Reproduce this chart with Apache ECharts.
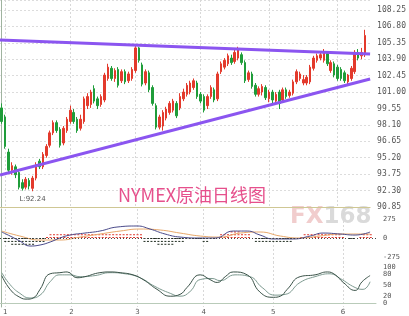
<!DOCTYPE html>
<html><head><meta charset="utf-8">
<script src="https://cdn.jsdelivr.net/npm/echarts@6/dist/echarts.min.js"></script>
<style>html,body{margin:0;padding:0;background:#fff}#c{width:409px;height:316px}</style>
</head><body><div id="c"></div>
<script>
// ---- data ----
const slotCount = 108;
const xTickLabels = {1:'1', 20:'2', 39:'3', 58:'4', 78:'5', 98:'6'};
const priceMin = 90.85, priceStep = 1.45;
const macdTicks = [-275, 0, 275];
const stochTicks = [0, 20, 50, 80, 100];
// [open, close, low, high]
const candles = [
[99.6,98.4,98.2,100.0],[98.8,96.2,96.0,99.0],[95.7,94.1,93.9,96.0],[94.1,94.5,93.7,94.8],[94.4,93.7,93.4,94.6],
[93.9,92.6,92.4,94.2],[93.0,92.5,92.3,93.3],[92.6,93.3,92.4,93.5],[93.2,92.7,92.4,93.4],[92.5,93.4,92.24,93.6],
[93.4,94.6,93.2,94.8],[94.9,94.4,94.2,95.1],[94.4,95.5,94.2,95.7],[95.4,96.2,95.2,96.4],[96.3,97.4,96.1,97.6],
[97.4,98.3,97.2,98.5],[98.3,97.6,97.4,98.5],[97.7,96.3,96.1,97.9],[96.5,97.8,96.3,98.0],[97.6,98.6,97.4,98.8],
[98.4,99.4,98.2,99.8],[99.2,98.4,98.2,99.5],[98.6,97.6,97.4,98.8],[97.8,98.6,97.6,99.0],[98.4,100.4,98.2,100.6],
[99.8,100.6,99.5,100.9],[99.9,101.0,99.6,101.2],[101.3,100.2,100.0,101.6],[100.4,99.8,99.5,100.6],[99.9,100.6,99.7,100.8],
[100.3,102.5,100.1,102.7],[102.2,103.2,102.0,103.5],[103.1,102.2,102.0,103.3],[102.2,102.9,101.9,103.1],[103.0,101.6,101.4,103.2],
[102.0,102.8,101.8,103.0],[102.8,101.9,101.7,103.0],[102.0,102.6,101.8,102.8],[102.2,103.0,102.0,103.2],[102.9,104.9,102.7,105.2],
[104.9,103.8,103.6,105.0],[103.4,101.7,101.5,103.6],[101.8,102.8,101.6,103.0],[102.7,101.2,101.0,102.9],[101.4,100.0,99.8,101.6],
[99.8,97.9,97.7,100.0],[97.9,98.8,97.7,99.0],[98.0,99.2,97.6,99.4],[98.7,99.5,98.5,99.7],[99.2,100.0,99.0,100.2],
[99.4,100.2,99.2,100.4],[100.0,98.9,98.7,100.2],[99.6,100.6,99.4,100.9],[100.4,101.0,100.2,101.3],[100.8,101.6,100.6,101.8],
[101.0,101.8,100.8,102.0],[101.4,102.0,101.2,102.2],[101.8,100.6,100.4,102.0],[100.8,100.2,100.0,101.0],[100.6,99.4,99.2,100.8],
[99.8,100.6,99.5,100.8],[100.6,101.4,100.4,101.6],[101.2,100.3,100.1,101.4],[100.4,102.6,100.2,102.8],[102.8,103.5,102.6,103.7],
[103.2,103.8,103.0,104.0],[103.5,104.2,103.3,104.4],[104.0,103.6,103.4,104.3],[103.7,104.5,103.5,104.8],[104.0,104.8,103.8,105.0],
[104.3,103.6,103.4,104.5],[103.6,102.0,101.8,103.8],[102.1,102.7,101.9,102.9],[102.6,101.5,101.3,102.8],[101.6,100.8,100.6,101.8],
[100.8,101.3,100.6,101.5],[101.0,101.5,100.7,101.7],[101.4,100.5,100.3,101.6],[100.4,101.0,100.1,101.2],[101.0,100.3,100.0,101.2],
[100.2,100.8,99.9,101.0],[101.0,100.0,99.5,101.2],[100.3,101.2,100.1,101.4],[101.2,100.6,100.4,101.4],[100.7,101.0,100.5,101.2],
[100.9,101.9,100.7,102.1],[101.9,102.8,101.7,103.0],[102.2,102.6,102.0,102.8],[101.8,102.1,101.6,102.5],[101.8,102.3,101.6,102.5],
[101.9,103.2,101.7,103.4],[103.1,104.0,102.9,104.2],[103.8,104.2,103.6,104.4],[104.0,104.3,103.8,104.6],[103.8,104.5,103.6,104.8],
[104.4,103.5,103.3,104.6],[102.9,103.6,102.7,103.8],[103.5,102.5,102.3,103.7],[103.2,102.2,102.0,103.4],[103.0,102.2,102.0,103.2],
[102.7,102.0,101.8,102.9],[101.9,102.5,101.6,102.6],[102.2,103.1,102.0,103.3],[102.8,104.5,102.6,104.7],[104.5,104.0,103.8,104.8],
[104.2,104.5,103.9,104.9],[104.3,106.0,104.1,106.5]
];
// trend lines: [position index, price]
const upperTrend = [[-0.5, 105.60], [107.5, 104.36]];
const lowerTrend = [[-0.5, 93.67], [107.5, 102.15]];
// MACD histogram per candle
const macdHist = [0,-15,-43,-58,-72,-72,-72,-72,-58,-58,-43,-29,-15,
5,15,29,29,29,29,43,43,43,29,29,43,43,43,43,29,29,43,43,43,29,29,29,15,15,15,29,15,
-15,-15,-29,-43,-58,-72,-72,-58,-58,-43,-29,-15,
-10,-8,-5,-5,-10,-15,-15,-10,-5,0,
15,29,43,58,58,58,43,29,15,0,
-15,-29,-43,-43,-43,-43,-36,-36,-29,-22,-15,-8,
0,10,15,15,22,29,36,43,43,43,36,29,15,8,0,
-5,-5,0,10,15,22,29];
// MACD lines: [position index, value]
const difLine = [[0,87],[2.4,29],[5.2,-43],[8.1,-116],[11,-101],[13.9,-58],[16.7,0],[19.6,43],[23.9,72],[28.2,101],
[33.1,159],[38.9,174],[42.6,130],[46.9,58],[51.2,14],[57,0],[61.3,0],[66.5,101],[70.5,101],[74.2,43],[78,-14],
[83.7,-14],[88.6,29],[92.3,72],[97.2,58],[101.5,43],[105.8,87]];
const deaLine = [[0,101],[5.2,29],[11,-29],[16.7,-29],[22.5,14],[28.2,58],[34,101],[39.7,130],[45.5,116],[51.2,72],
[57,29],[62.7,14],[68.5,72],[74.2,87],[80,29],[85.7,0],[91.4,29],[97.2,58],[105.8,58]];
// Stochastic lines
const kLine = [[0,76],[2.4,38],[5.2,16],[7.3,11],[9,14],[11,38],[13.9,81],[16.7,84],[18.8,86],[21.6,70],[23.9,73],
[28.2,84],[31.1,86],[34,84],[37.7,78],[40.6,65],[44.6,38],[48.4,19],[51.2,24],[53.2,43],[57,78],[59.8,65],[61.9,57],
[64.2,73],[66.5,86],[70.5,78],[74.2,30],[78,16],[80,19],[82,38],[85.7,73],[90,78],[93.5,86],[95.8,78],[98.1,57],
[101.5,35],[103.5,59],[105.8,76]];
const dLine = [[0,84],[2.4,51],[5.2,27],[8.1,14],[11,22],[13.9,59],[16.7,78],[19.6,78],[22.5,73],[26.8,76],[31.1,84],
[35.4,81],[39.7,70],[44,46],[48.4,27],[51.2,19],[54.1,32],[57,65],[60.4,68],[62.7,62],[67,78],[71.3,73],[74.8,43],
[78.5,22],[81.4,24],[85.7,57],[90,73],[94.3,81],[97.2,68],[101.5,43],[103.8,38],[105.8,59]];

// ---- chart ----
const categories = Array.from({length: slotCount}, (_, i) => String(i));
const isTick = i => Object.prototype.hasOwnProperty.call(xTickLabels, i);
const gridLeft = 0, gridWidth = 376;
const vSplit = {show: true, interval: (i) => isTick(i), alignWithLabel: true,
  lineStyle: {color: '#d8d8d8', type: [2, 2], width: 1}};
const lblFont = {fontSize: 8, color: '#555', fontFamily: 'DejaVu Sans Mono', hideOverlap: false};
const smallFont = {fontSize: 7, color: '#555', fontFamily: 'DejaVu Sans Mono', hideOverlap: false};

const chart = echarts.init(document.getElementById('c'), null, {renderer: 'canvas'});
chart.setOption({
  animation: false,
  backgroundColor: '#fff',
  grid: [
    {left: gridLeft, width: gridWidth, top: 0, height: 207},
    {left: gridLeft, width: gridWidth, top: 209, height: 53},
    {left: gridLeft, width: gridWidth, top: 262, height: 46}
  ],
  xAxis: [
    {type: 'category', gridIndex: 0, data: categories, boundaryGap: true,
     axisLine: {show: true, lineStyle: {color: '#cfc794', width: 1}}, axisTick: {show: false},
     axisLabel: {show: false}, splitLine: vSplit},
    {type: 'category', gridIndex: 1, data: categories, boundaryGap: true,
     axisLine: {show: false}, axisTick: {show: false}, axisLabel: {show: false}, splitLine: vSplit},
    {type: 'category', gridIndex: 2, data: categories, boundaryGap: true,
     axisLine: {show: true, lineStyle: {color: '#b9cbb9'}}, axisTick: {show: false},
     axisLabel: {show: true, interval: (i) => isTick(i), formatter: (v, i) => xTickLabels[i] || '',
       fontSize: 7, color: '#555', margin: 2, fontFamily: 'DejaVu Sans'},
     splitLine: vSplit},
    {type: 'value', gridIndex: 0, min: -0.5, max: slotCount - 0.5, show: false},
    {type: 'value', gridIndex: 1, min: -0.5, max: slotCount - 0.5, show: false},
    {type: 'value', gridIndex: 2, min: -0.5, max: slotCount - 0.5, show: false}
  ],
  yAxis: [
    {type: 'value', gridIndex: 0, position: 'right', min: priceMin, max: 109.13, interval: priceStep,
     axisLine: {show: true, lineStyle: {color: '#9fb39f'}}, axisTick: {show: false},
     axisLabel: Object.assign({margin: 7, showMaxLabel: false, formatter: v => v.toFixed(2)}, lblFont),
     splitLine: {show: true, lineStyle: {color: '#dcdcdc', type: [2, 2]}}},
    {type: 'value', gridIndex: 1, position: 'right', min: -347, max: 420,
     axisLine: {show: true, lineStyle: {color: '#9fb39f'}}, axisTick: {show: false},
     axisLabel: Object.assign({margin: 7, customValues: macdTicks, formatter: v => String(v)}, smallFont),
     splitLine: {show: false}},
    {type: 'value', gridIndex: 2, position: 'right', min: -10.8, max: 113.5,
     axisLine: {show: true, lineStyle: {color: '#9fb39f'}}, axisTick: {show: false},
     axisLabel: Object.assign({margin: 7, customValues: stochTicks, showMinLabel: true, showMaxLabel: true,
       formatter: v => String(v)}, smallFont),
     splitLine: {show: false}}
  ],
  series: [
    {type: 'candlestick', xAxisIndex: 0, yAxisIndex: 0, data: candles, barWidth: 2,
     itemStyle: {color: '#e33a2c', color0: '#1f9d3a', borderColor: '#e33a2c', borderColor0: '#1f9d3a', borderWidth: 1},
     markPoint: {symbol: 'circle', symbolSize: 0,
       data: [{type: 'min', valueDim: 'lowest'}],
       label: {show: true, position: 'bottom', distance: 4, formatter: p => 'L:' + p.value.toFixed(2),
         fontSize: 7, color: '#555', fontFamily: 'DejaVu Sans'}}},
    {type: 'line', xAxisIndex: 3, yAxisIndex: 0, data: upperTrend, symbol: 'none',
     lineStyle: {color: '#8b55f0', width: 3}, z: 5},
    {type: 'line', xAxisIndex: 3, yAxisIndex: 0, data: lowerTrend, symbol: 'none',
     lineStyle: {color: '#8b55f0', width: 3}, z: 5},
    {type: 'pictorialBar', xAxisIndex: 1, yAxisIndex: 1, symbol: 'rect', symbolSize: [2, 1],
     symbolRepeat: true, symbolMargin: 1, barWidth: 2,
     data: macdHist.map(v => ({value: v, itemStyle: {color: v >= 0 ? '#e0392f' : '#1d2a1d'}})),
     markLine: {silent: true, symbol: 'none', label: {show: false},
       lineStyle: {color: '#444', type: [1, 2], width: 1}, data: [{yAxis: 0}]}},
    {type: 'line', xAxisIndex: 4, yAxisIndex: 1, data: deaLine, symbol: 'none', smooth: true,
     lineStyle: {color: '#e8a86a', width: 1}},
    {type: 'line', xAxisIndex: 4, yAxisIndex: 1, data: difLine, symbol: 'none', smooth: true,
     lineStyle: {color: '#4a4a8a', width: 1}},
    {type: 'line', xAxisIndex: 5, yAxisIndex: 2, data: dLine, symbol: 'none', smooth: true,
     lineStyle: {color: '#7d9a90', width: 1}},
    {type: 'line', xAxisIndex: 5, yAxisIndex: 2, data: kLine, symbol: 'none', smooth: true,
     lineStyle: {color: '#3a5248', width: 1}}
  ],
  graphic: [
    {type: 'text', left: 118, top: 186, z: 10,
     style: {text: 'NYMEX原油日线图', font: '18px "Noto Sans CJK SC"', fill: '#e6508c'}},
    {type: 'text', left: 290, top: 206, z: 0,
     style: {text: '{a|FX}{b|168}',
       rich: {a: {fontSize: 23, fontWeight: 'bold', fontFamily: 'DejaVu Sans', fill: '#f1cdcd'},
              b: {fontSize: 23, fontWeight: 'bold', fontFamily: 'DejaVu Sans', fill: '#dadada'}}}}
  ]
});
</script>
</body></html>
